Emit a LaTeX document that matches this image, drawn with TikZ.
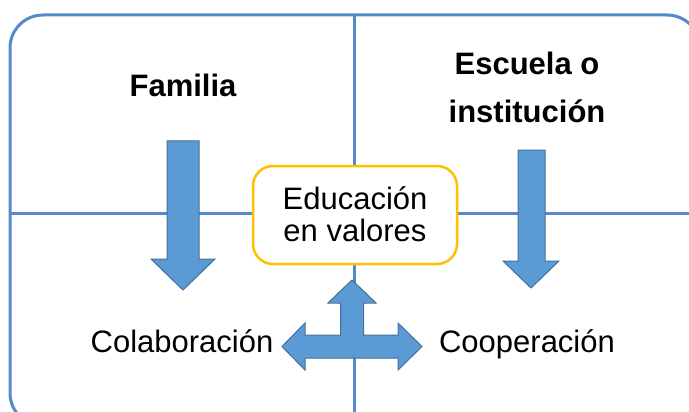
\documentclass[tikz,border=0pt]{standalone}
\usepackage{fontspec}
\setmainfont{Liberation Sans}
\usepackage{tikz}

\definecolor{frameblue}{RGB}{84,138,200}
\definecolor{arrowfill}{RGB}{91,155,213}
\definecolor{arrowedge}{RGB}{65,113,156}
\definecolor{boxgold}{RGB}{255,192,0}

\begin{document}
\begin{tikzpicture}[x=1pt, y=-1pt,
    frame/.style={draw=frameblue, line width=3pt},
    blockarrow/.style={fill=arrowfill, draw=arrowedge, line width=1pt, line join=miter},
    valbox/.style={draw=boxgold, line width=2.5pt, fill=white, rounded corners=20pt,
      minimum width=204pt, minimum height=98pt},
    label/.style={font=\fontsize{31}{31}\selectfont, anchor=base, inner sep=0pt},
    title/.style={label, font=\fontsize{31}{31}\selectfont\bfseries}]
    \clip (0,0) rectangle (689,412);

    % frame and dividers
    \draw[frame, rounded corners=33pt] (10,15) rectangle (700,426);
    \coordinate (top) at (354,15);
    \coordinate (bottom) at (354,430);
    \coordinate (left) at (10,213);
    \coordinate (right) at (700,213);
    \draw[frame] (top) -- (bottom);
    \draw[frame] (left) -- (right);

    % central box
    \node[valbox] (valores) at (355,215) {};
    \node[label] (edu) at (355,209) {Educación};
    \node[label] (val) at (355,241) {en valores};

    % headings
    \node[title] (familia) at (183,97) {Familia};
    \node[title] (escuela) at (527,75) {Escuela o};
    \node[title] (instit) at (527,123) {institución};

    % down arrows
    \draw[blockarrow] (167,141) -- (199,141) -- (199,259) -- (215,259) -- (183,290)
      -- (151,259) -- (167,259) -- cycle;
    \draw[blockarrow] (518,150) -- (545,150) -- (545,261) -- (559,261) -- (531,288)
      -- (503,261) -- (518,261) -- cycle;

    % three-way arrow
    \draw[blockarrow] (352,280) -- (376,303) -- (363.5,303) -- (363.5,335) -- (398,335)
      -- (398,323) -- (422,346.5) -- (398,370) -- (398,358) -- (305,358) -- (305,370)
      -- (282,346.5) -- (305,323) -- (305,335) -- (340.5,335) -- (340.5,303)
      -- (328,303) -- cycle;

    % bottom labels
    \node[label] (colab) at (182,352) {Colaboración};
    \node[label] (coop) at (527,352) {Cooperación};
\end{tikzpicture}
\end{document}
